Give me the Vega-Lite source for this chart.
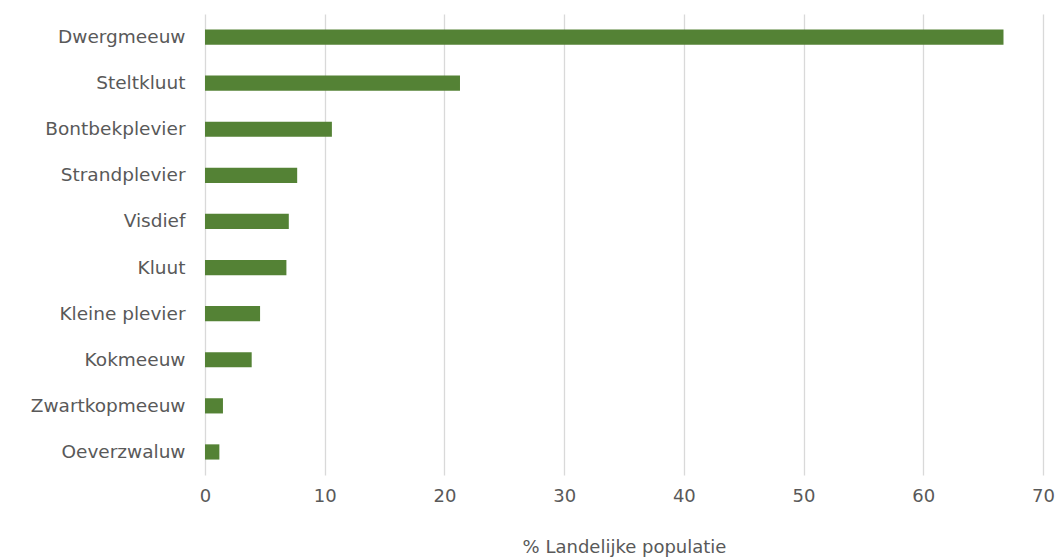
{
  "$schema": "https://vega.github.io/schema/vega-lite/v6.json",
  "autosize": {"type": "none"},
  "width": 838,
  "height": 461,
  "padding": {"left": 205, "top": 14, "right": 14, "bottom": 83},
  "background": "white",
  "data": {
    "values": [
      {"soort": "Dwergmeeuw", "pct": 66.7},
      {"soort": "Steltkluut", "pct": 21.3},
      {"soort": "Bontbekplevier", "pct": 10.6},
      {"soort": "Strandplevier", "pct": 7.7},
      {"soort": "Visdief", "pct": 7.0},
      {"soort": "Kluut", "pct": 6.8},
      {"soort": "Kleine plevier", "pct": 4.6},
      {"soort": "Kokmeeuw", "pct": 3.9},
      {"soort": "Zwartkopmeeuw", "pct": 1.5},
      {"soort": "Oeverzwaluw", "pct": 1.2}
    ]
  },
  "mark": {"type": "bar", "color": "#548235"},
  "encoding": {
    "y": {
      "field": "soort",
      "type": "nominal",
      "sort": null,
      "scale": {"paddingInner": 0.67, "paddingOuter": 0.335},
      "axis": {
        "title": null,
        "domain": false,
        "ticks": false,
        "grid": false,
        "labelFont": "DejaVu Sans",
        "labelFontSize": 18.5,
        "labelColor": "#595959",
        "labelPadding": 20,
        "minExtent": 205,
        "maxExtent": 205
      }
    },
    "x": {
      "field": "pct",
      "type": "quantitative",
      "scale": {"domain": [0, 70], "nice": false},
      "axis": {
        "title": "% Landelijke populatie",
        "values": [0, 10, 20, 30, 40, 50, 60, 70],
        "domain": false,
        "ticks": false,
        "grid": true,
        "gridColor": "#d9d9d9",
        "gridWidth": 1.3,
        "labelFont": "DejaVu Sans",
        "labelFontSize": 18,
        "labelColor": "#595959",
        "labelPadding": 12,
        "labelFlush": false,
        "titleFont": "DejaVu Sans",
        "titleFontSize": 18,
        "titleFontWeight": "normal",
        "titleColor": "#595959",
        "titlePadding": 33
      }
    }
  },
  "config": {"view": {"stroke": null}}
}
